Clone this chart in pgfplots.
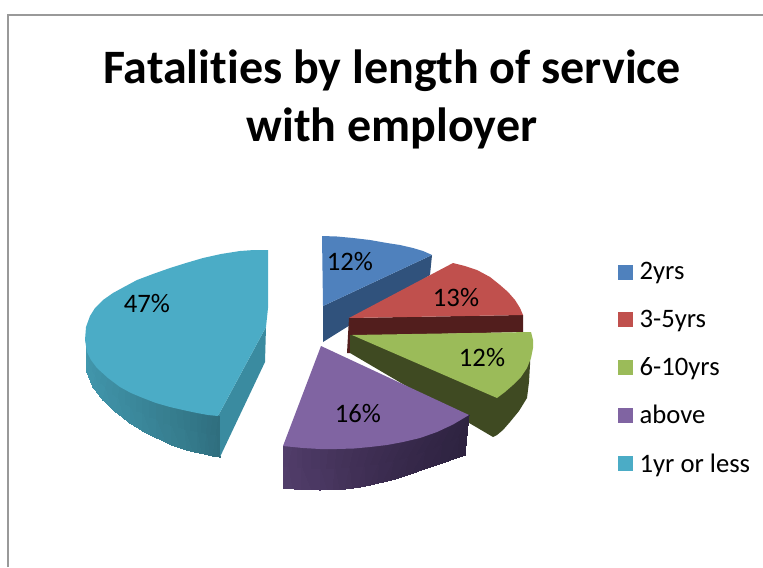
\documentclass[border=0pt]{standalone}
\usepackage{fontspec}
\setmainfont[Ligatures=NoCommon]{Carlito}
\usepackage{pgfplots}
\pgfplotsset{compat=1.18}
\usepgfplotslibrary{patchplots}

\definecolor{sliceA}{HTML}{4F81BD}
\definecolor{sliceB}{HTML}{C0504D}
\definecolor{sliceC}{HTML}{9BBB59}
\definecolor{sliceD}{HTML}{8064A2}
\definecolor{sliceE}{HTML}{4BACC6}
\definecolor{wallA}{HTML}{30527C}
\definecolor{wallB}{HTML}{521E1D}
\definecolor{wallC}{HTML}{3F4A22}
\definecolor{wallE}{HTML}{3A8BA0}
% rim shading of the two front slices, left to right
\definecolor{wallD0}{HTML}{523E6B}
\definecolor{wallD2}{HTML}{4B3863}
\definecolor{wallD4}{HTML}{44335A}
\definecolor{wallD6}{HTML}{3E2E53}
\definecolor{wallD8}{HTML}{382A4C}
\definecolor{wallD10}{HTML}{332646}
\definecolor{wallD12}{HTML}{2E2340}
\colorlet{wallD1}{wallD0!50!wallD2}
\colorlet{wallD3}{wallD2!50!wallD4}
\colorlet{wallD5}{wallD4!50!wallD6}
\colorlet{wallD7}{wallD6!50!wallD8}
\colorlet{wallD9}{wallD8!50!wallD10}
\colorlet{wallD11}{wallD10!50!wallD12}
\definecolor{wallF0}{HTML}{4298AE}
\definecolor{wallF2}{HTML}{3F92A7}
\definecolor{wallF4}{HTML}{3C8B9F}
\definecolor{wallF6}{HTML}{398497}
\definecolor{wallF8}{HTML}{367D8E}
\definecolor{wallF10}{HTML}{327586}
\definecolor{wallF12}{HTML}{2F6E7E}
\colorlet{wallF1}{wallF0!50!wallF2}
\colorlet{wallF3}{wallF2!50!wallF4}
\colorlet{wallF5}{wallF4!50!wallF6}
\colorlet{wallF7}{wallF6!50!wallF8}
\colorlet{wallF9}{wallF8!50!wallF10}
\colorlet{wallF11}{wallF10!50!wallF12}

\begin{document}
\begin{tikzpicture}
\begin{axis}[
  scale only axis,
  width=572.25pt, height=425.25pt,
  xmin=0, xmax=763, ymin=0, ymax=567,
  y dir=reverse,
  hide axis,
  clip=true,
  legend cell align=left,
  legend image code/.code={\path[#1] (0pt,-5.6pt) rectangle (11.25pt,5.6pt); \path (14pt,0pt);},
  legend style={at={(axis cs:618,259.5)}, anchor=north west, draw=none, fill=none,
    font=\fontsize{20}{23}\selectfont, row sep=17pt, inner sep=0pt,
    nodes={inner sep=2pt}},
]
% chart frame, open on the right and at the bottom
\addplot[forget plot, draw=black!40, line width=1.3pt] coordinates {(8,567) (8,15) (763,15)};

% 2yrs
\addplot[forget plot, fill=wallA, draw=none] coordinates
  {(323,306) (432,255) (430,275) (323,342)} --cycle;
\addplot[fill=sliceA, draw=none] coordinates
  {(322,236) (337,236.5) (353,238) (370,240) (387,243) (400,245) (413,248) (423,251) (432,255) (323,306)} --cycle;
\addlegendentry{2yrs}

% 3-5yrs
\addplot[forget plot, fill=wallB, draw=none] coordinates
  {(349,318) (523,315) (523,332) (351,336) (350,353) (347,353) (348,335)} --cycle;
\addplot[fill=sliceB, draw=none] coordinates
  {(349,318) (453,263) (465,266) (477,270) (490,277) (500,285) (508,292) (515,300) (520,308) (523,315)} --cycle;
\addlegendentry{3-5yrs}

% 6-10yrs
\addplot[forget plot, fill=wallC, draw=none] coordinates
  {(350,335) (530,340) (530,365) (529,382) (527,398) (519,411) (510,422) (503,430) (497,435) (493,437) (350,353)} --cycle;
\addplot[fill=sliceC, draw=none] coordinates
  {(352,335) (531,332) (533,340) (533,348) (531,358) (527,368) (521,377) (513,385) (505,392) (497,398)} --cycle;
\addlegendentry{6-10yrs}

% above
\addplot[forget plot, patch, patch type=rectangle, shader=interp, mesh/color input=explicit] coordinates {
  (283,446) [color=wallD0] (293,447) [color=wallD1] (301,489.5) [color=wallD1] (283,488) [color=wallD0]
  (293,447) [color=wallD1] (303,448) [color=wallD2] (320,490) [color=wallD2] (301,489.5) [color=wallD1]
  (303,448) [color=wallD2] (320,449) [color=wallD3] (333,489.7) [color=wallD3] (320,490) [color=wallD2]
  (320,449) [color=wallD3] (337,449) [color=wallD4] (345,489) [color=wallD4] (333,489.7) [color=wallD3]
  (337,449) [color=wallD4] (354,448.5) [color=wallD5] (358,487.5) [color=wallD5] (345,489) [color=wallD4]
  (354,448.5) [color=wallD5] (370,447) [color=wallD6] (370,485) [color=wallD6] (358,487.5) [color=wallD5]
  (370,447) [color=wallD6] (387,445) [color=wallD7] (383,482) [color=wallD7] (370,485) [color=wallD6]
  (387,445) [color=wallD7] (403,442) [color=wallD8] (395,479) [color=wallD8] (383,482) [color=wallD7]
  (403,442) [color=wallD8] (420,438) [color=wallD9] (412,473.5) [color=wallD9] (395,479) [color=wallD8]
  (420,438) [color=wallD9] (437,432) [color=wallD10] (430,467) [color=wallD10] (412,473.5) [color=wallD9]
  (437,432) [color=wallD10] (453,424.5) [color=wallD11] (448,461) [color=wallD11] (430,467) [color=wallD10]
  (453,424.5) [color=wallD11] (469,415) [color=wallD12] (465,455) [color=wallD12] (448,461) [color=wallD11]
};
\addplot[fill=sliceD, draw=none] coordinates
  {(321,346) (469,415) (453,424.5) (437,432) (420,438) (403,442) (387,445) (370,447)
   (354,448.5) (337,449) (320,449) (303,448) (293,447) (283,446)} --cycle;
\addlegendentry{above}

% 1yr or less
\addplot[forget plot, fill=wallE, draw=none] coordinates
  {(218,416) (266,327) (265,362) (220,457)} --cycle;
\addplot[forget plot, patch, patch type=rectangle, shader=interp, mesh/color input=explicit] coordinates {
  (86,345) [color=wallF0] (91,358) [color=wallF1] (93,387) [color=wallF1] (87,372) [color=wallF0]
  (91,358) [color=wallF1] (97,368) [color=wallF2] (103,400) [color=wallF2] (93,387) [color=wallF1]
  (97,368) [color=wallF2] (108,378) [color=wallF3] (116,412) [color=wallF3] (103,400) [color=wallF2]
  (108,378) [color=wallF3] (120,387) [color=wallF4] (130,423) [color=wallF4] (116,412) [color=wallF3]
  (120,387) [color=wallF4] (131,393) [color=wallF5] (143,431) [color=wallF5] (130,423) [color=wallF4]
  (131,393) [color=wallF5] (143,398) [color=wallF6] (157,438) [color=wallF6] (143,431) [color=wallF5]
  (143,398) [color=wallF6] (156,403) [color=wallF7] (172,445) [color=wallF7] (157,438) [color=wallF6]
  (156,403) [color=wallF7] (170,407) [color=wallF8] (187,450) [color=wallF8] (172,445) [color=wallF7]
  (170,407) [color=wallF8] (183,410) [color=wallF9] (197,452.5) [color=wallF9] (187,450) [color=wallF8]
  (183,410) [color=wallF9] (197,413) [color=wallF10] (205,454) [color=wallF10] (197,452.5) [color=wallF9]
  (197,413) [color=wallF10] (208,415) [color=wallF11] (213,456) [color=wallF11] (205,454) [color=wallF10]
  (208,415) [color=wallF11] (219,416) [color=wallF12] (220,457) [color=wallF12] (213,456) [color=wallF11]
};
\addplot[fill=sliceE, draw=none] coordinates
  {(268,250) (254,250) (240,251) (221,254) (203,258) (186,263) (170,268) (153,274)
   (137,280) (124,287) (113,293) (103,300) (95,308) (90,316) (86,327) (85,340)
   (87,352) (91,360) (97,368) (108,378) (120,387) (131,393) (143,398) (156,403)
   (170,407) (183,410) (197,413) (208,415) (218,416) (266,327) (268,308)} --cycle;
\addlegendentry{1yr or less}

% slice percentages
\node[font=\fontsize{20}{23}\selectfont] at (axis cs:147,304) {47\%};
\node[font=\fontsize{20}{23}\selectfont] at (axis cs:350,262) {12\%};
\node[font=\fontsize{20}{23}\selectfont] at (axis cs:456,298) {13\%};
\node[font=\fontsize{20}{23}\selectfont] at (axis cs:482,358) {12\%};
\node[font=\fontsize{20}{23}\selectfont] at (axis cs:358,414) {16\%};

% chart title
\node[font=\fontsize{36}{43.5}\selectfont\bfseries, align=center, text=black] at (axis cs:392,99)
  {Fatalities by length of service\\with employer};

\path[use as bounding box] (axis cs:0,0) rectangle (axis cs:763,567);
\end{axis}
\end{tikzpicture}
\end{document}
